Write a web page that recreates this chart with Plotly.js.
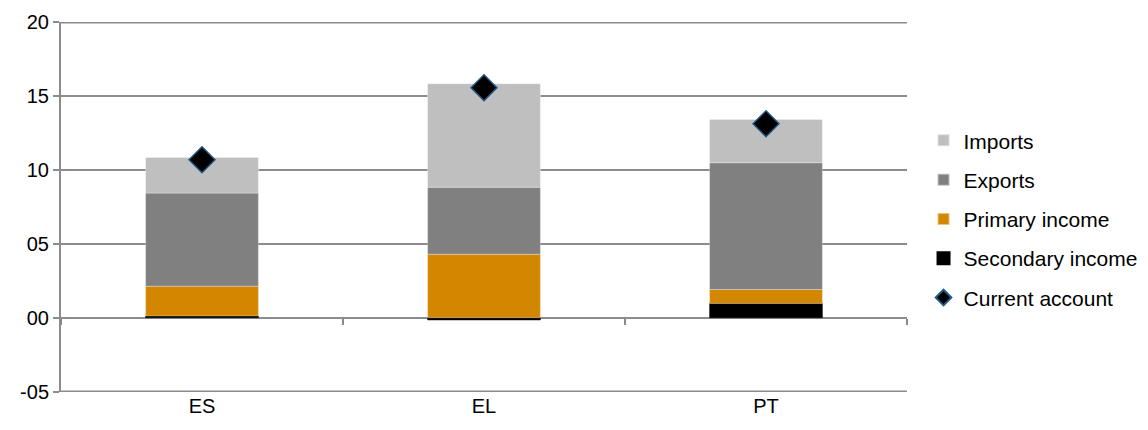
<!DOCTYPE html>
<html>
<head>
<meta charset="utf-8">
<script src="https://cdn.plot.ly/plotly-3.0.1.min.js"></script>
<style>html,body{margin:0;padding:0;background:#fff;}#chart{width:1148px;height:430px;}</style>
</head>
<body>
<div id="chart"></div>
<script>
const categories = ["ES", "EL", "PT"];
const secondaryIncome = [0.12, -0.15, 0.97];
const primaryIncome = [2.02, 4.30, 0.94];
const exportsVals = [6.30, 4.54, 8.59];
const importsVals = [2.42, 7.00, 2.93];
const currentAccount = [10.70, 15.58, 13.14];
const yTickVals = [-5, 0, 5, 10, 15, 20];
const yTickText = ["-05", "00", "05", "10", "15", "20"];
const boundaryTicks = [-0.5, 0.5, 1.5, 2.5];

const barLine = {color: "rgba(255,255,255,0.5)", width: 0.6};
const traces = [
  {type: "bar", name: "Secondary income", x: categories, y: secondaryIncome, width: 0.4,
   marker: {color: "#000000", line: {color: "#000000", width: 0.5}}, legendrank: 4, legendgroup: "d"},
  {type: "bar", name: "Primary income", x: categories, y: primaryIncome, width: 0.4,
   marker: {color: "#d38600", line: barLine}, legendrank: 3, legendgroup: "c"},
  {type: "bar", name: "Exports", x: categories, y: exportsVals, width: 0.4,
   marker: {color: "#808080", line: barLine}, legendrank: 2, legendgroup: "b"},
  {type: "bar", name: "Imports", x: categories, y: importsVals, width: 0.4,
   marker: {color: "#bfbfbf", line: barLine}, legendrank: 1, legendgroup: "a"},
  {type: "scatter", mode: "markers", name: "Current account", x: categories, y: currentAccount,
   marker: {symbol: "diamond", size: 20, color: "#000000", line: {color: "#1f5a85", width: 1.5}},
   legendrank: 5, legendgroup: "e"},
  {type: "scatter", mode: "markers", x: [0], y: [0], xaxis: "x2", showlegend: false,
   hoverinfo: "skip", marker: {opacity: 0}}
];

const plotDomain = [0, 846 / 1087];
const edgeGrid = [yTickVals[0], yTickVals[yTickVals.length - 1]].map(v => ({
  type: "line", xref: "paper", yref: "y", x0: plotDomain[0], x1: plotDomain[1], y0: v, y1: v,
  line: {color: "#8c8c8c", width: 2}, layer: "below"
}));

const layout = {
  width: 1148, height: 430,
  margin: {l: 61, r: 0, t: 22, b: 38},
  paper_bgcolor: "#ffffff", plot_bgcolor: "#ffffff",
  barmode: "relative",
  font: {family: "Liberation Sans, Arial, sans-serif", color: "#000000", size: 20},
  showlegend: true,
  shapes: edgeGrid,
  legend: {x: 0.7935, y: 0.467, xanchor: "left", yanchor: "middle",
           font: {size: 21, color: "#000000"}, traceorder: "grouped",
           tracegroupgap: 9, itemsizing: "constant", itemwidth: 30, bgcolor: "rgba(0,0,0,0)"},
  xaxis: {type: "category", domain: plotDomain, range: [-0.5, 2.5], showgrid: false, showline: false,
          zeroline: false, ticks: "", tickfont: {size: 20}},
  xaxis2: {overlaying: "x", domain: plotDomain, anchor: "free", position: 0.2, range: [-0.5, 2.5],
           tickvals: boundaryTicks, ticks: "outside", ticklen: 6, tickwidth: 2,
           tickcolor: "#888888", showticklabels: false, showgrid: false,
           showline: false, zeroline: false},
  yaxis: {range: [-5.03, 20.03], tickvals: yTickVals, ticktext: yTickText,
          showgrid: true, gridcolor: "#8c8c8c", gridwidth: 2,
          zeroline: true, zerolinecolor: "#8c8c8c", zerolinewidth: 2,
          showline: true, linecolor: "#8c8c8c", linewidth: 2,
          ticks: "outside", ticklen: 6, tickwidth: 2, tickcolor: "#8c8c8c",
          tickfont: {size: 20}}
};

Plotly.newPlot("chart", traces, layout, {displayModeBar: false, staticPlot: true});
</script>
</body>
</html>
